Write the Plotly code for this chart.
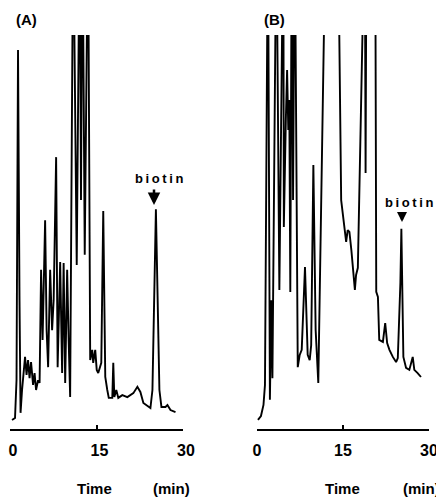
import plotly.graph_objects as go
from plotly.subplots import make_subplots

# ---- data (time in min, detector signal in % of full scale;
#      values > 100 are off-scale peaks clipped by the recorder) ----
time_a = [0.35, 0.87, 1.13, 1.39, 1.65, 1.83, 2.09, 2.61, 2.87, 3.13, 3.39, 3.65, 4.00, 4.26,
          4.52, 4.87, 5.13, 5.39, 5.65, 6.09, 6.35, 6.61, 6.96, 7.30, 7.57, 8.00, 8.26, 8.70,
          9.04, 9.30, 9.57, 9.91, 10.17, 10.43, 10.96, 11.57, 12.09, 12.31, 12.57, 12.96,
          13.53, 13.91, 14.26, 14.43, 14.78, 15.04, 15.30, 15.83, 16.17, 16.52, 16.87, 17.13,
          17.74, 17.91, 18.09, 18.43, 18.78, 19.48, 20.35, 21.39, 22.09, 22.61, 23.13, 24.35,
          24.70, 25.30, 25.91, 26.26, 26.96, 27.30, 27.83, 28.70]
signal_a = [2.3, 2.8, 12.4, 96.2, 32.7, 4.1, 9.9, 18.3, 13.7, 17.5, 12.9, 17.0, 11.2, 14.2,
            9.9, 12.4, 11.7, 40.4, 22.6, 53.0, 25.1, 15.7, 40.4, 25.1, 32.7, 69.0, 15.7, 42.4,
            14.2, 42.1, 11.7, 40.4, 22.6, 8.1, 130, 41.6, 130, 58.1, 130, 44.2,
            130, 17.5, 20.1, 16.8, 20.1, 15.0, 14.2, 16.8, 55.3, 13.2, 9.9, 7.9,
            7.9, 16.8, 8.1, 9.9, 7.9, 8.6, 8.1, 9.1, 10.7, 9.4, 6.6, 5.3,
            9.9, 55.8, 9.9, 5.6, 5.6, 6.1, 4.8, 4.3]

time_b = [0.17, 0.69, 1.13, 1.39, 1.91, 2.25, 2.51, 2.69, 3.38, 3.90, 4.59, 4.68, 5.03, 5.25,
          5.46, 5.63, 5.81, 6.07, 6.29, 6.59, 7.11, 7.45, 7.80, 8.37, 8.84, 9.19, 9.45, 9.83,
          10.23, 10.69, 12.00, 14.12, 14.68, 15.25, 15.55, 15.82, 16.12, 16.46, 16.81, 17.07,
          17.28, 17.59, 18.80, 18.94, 19.10, 20.62, 20.80, 21.09, 21.32, 21.96, 22.36, 22.70,
          23.10, 23.69, 24.26, 24.56, 25.01, 25.18, 25.53, 26.00, 26.57, 27.16, 27.44, 28.02,
          28.60]
signal_b = [2.3, 3.3, 6.1, 11.2, 130, 7.4, 32.7, 12.9, 130, 35.3, 130, 51.3, 78.4, 91.1,
            75.9, 83.5, 34.8, 130, 58.1, 130, 15.7, 18.8, 20.1, 41.1, 18.8, 17.5, 21.3, 67.0,
            25.1, 11.7, 130, 130, 58.1, 51.3, 47.5, 50.5, 50.0, 45.4, 40.4, 35.3,
            39.1, 40.9, 130, 65.0, 130, 130, 34.8, 33.5, 22.6, 22.1, 26.9, 21.8,
            20.1, 18.3, 17.0, 18.0, 37.1, 50.8, 18.3, 15.5, 15.0, 18.3, 15.0, 14.2,
            13.2]

tick_vals = [0, 15, 30]
tick_text = ["0", "15", "30"]
panel_labels = ["(A)", "(B)"]
peak_label = "biotin"

# the page body has an 8 px margin, so the figure is drawn 8 px in from the top-left
OFF = 8
W, H = 444 - OFF, 503 - OFF


def px(x):
    return (x - OFF) / W


def py(y):
    return 1 - (y - OFF) / H


fig = make_subplots(rows=1, cols=2)

line_style = dict(color="black", width=1.9)
fig.add_trace(go.Scatter(x=time_a, y=signal_a, mode="lines", line=line_style,
                         showlegend=False, hoverinfo="skip"), row=1, col=1)
fig.add_trace(go.Scatter(x=time_b, y=signal_b, mode="lines", line=line_style,
                         showlegend=False, hoverinfo="skip"), row=1, col=2)

bold = dict(family="Liberation Sans, Arial, sans-serif", size=16, color="black", weight="bold")

xaxis_common = dict(range=[0, 30], showline=True, linecolor="black", linewidth=2,
                    ticks="inside", ticklen=4, tickwidth=1.5, tickcolor="black",
                    tickvals=tick_vals, ticktext=tick_text, tickfont=bold,
                    ticklabelstandoff=6, ticklabeloverflow="allow",
                    showgrid=False, zeroline=False, fixedrange=True, automargin=False)
yaxis_common = dict(range=[0, 100], visible=False, showgrid=False, zeroline=False,
                    fixedrange=True, automargin=False)

fig.update_layout(
    template="none",
    width=W, height=H,
    margin=dict(l=0, r=0, t=0, b=0, pad=0),
    paper_bgcolor="white", plot_bgcolor="white",
    xaxis=dict(domain=[px(10), px(183)], ticklabelshift=3, **xaxis_common),
    xaxis2=dict(domain=[px(257), px(429)], **xaxis_common),
    yaxis=dict(domain=[py(429), py(35)], **yaxis_common),
    yaxis2=dict(domain=[py(429), py(35)], **yaxis_common),
)


def label(text, xc, yc, size):
    return dict(text=text, x=px(xc), y=py(yc), xref="paper", yref="paper",
                xanchor="center", yanchor="middle", showarrow=False, font=dict(bold, size=size))


spaced = "&#8201;".join(peak_label)
ann = [
    label(panel_labels[0], 26, 19, 15),
    label(panel_labels[1], 274, 19, 15),
    label("Time", 94, 488, 15),
    label("(min)", 171, 488, 15),
    label("Time", 342, 488, 15),
    label("(min)", 421, 488, 15),
    label(spaced, 159, 178, 13),
    label(spaced, 409, 202, 13),
    dict(text="", x=px(154), y=py(205), xref="paper", yref="paper",
         showarrow=True, ax=0, ay=-17, arrowhead=2, arrowsize=1, arrowwidth=2.5,
         arrowcolor="black"),
    dict(text="", x=px(402), y=py(222), xref="paper", yref="paper",
         showarrow=True, ax=0, ay=-9, arrowhead=2, arrowsize=0.8, arrowwidth=2.5,
         arrowcolor="black"),
]
fig.update_layout(annotations=ann)

fig.write_html("out.html")
